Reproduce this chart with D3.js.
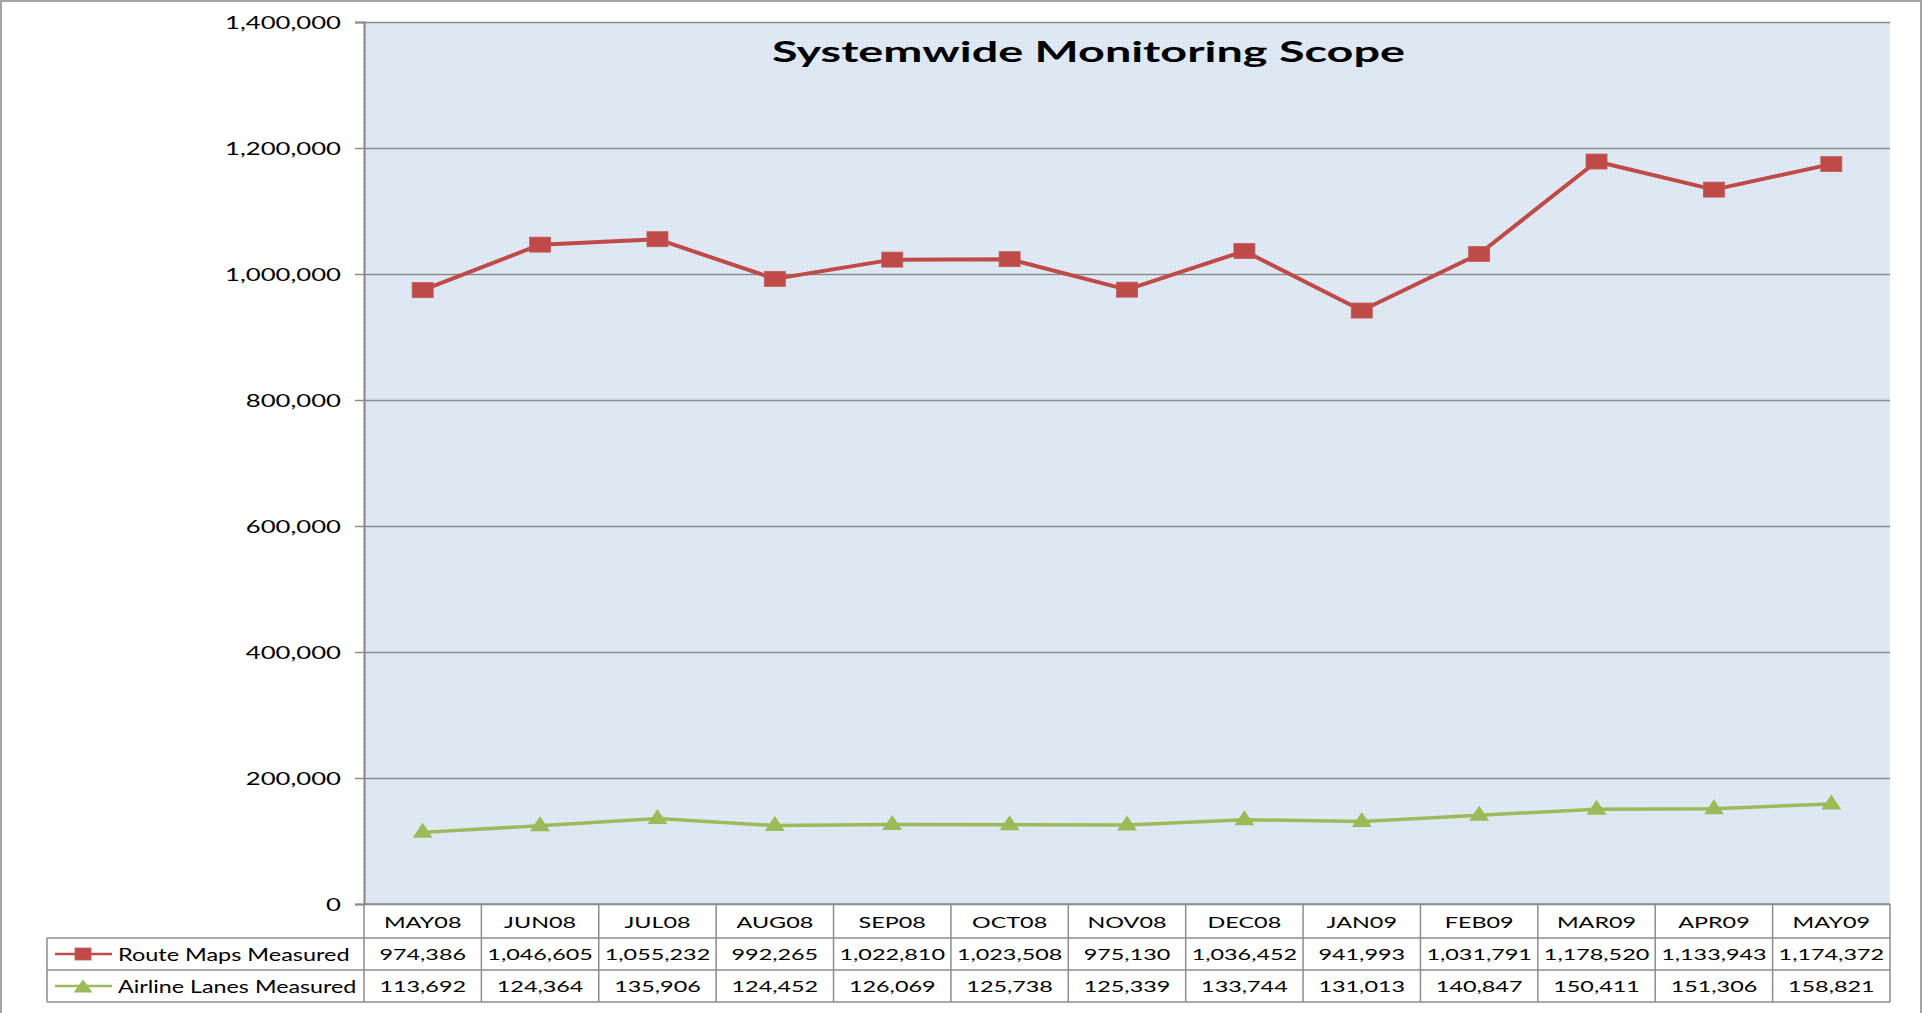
<!DOCTYPE html>
<html>
<head>
<meta charset="utf-8">
<script src="https://d3js.org/d3.v7.min.js"></script>
<style>
  body { margin:0; background:#fff; }
  text { font-family: Lato, "Open Sans", sans-serif; fill:#000; }
</style>
</head>
<body>
<svg width="1923" height="1013"></svg>
<script>
// data (its own data table)
var months = ["MAY08","JUN08","JUL08","AUG08","SEP08","OCT08","NOV08","DEC08","JAN09","FEB09","MAR09","APR09","MAY09"];
var routeMaps = [974386,1046605,1055232,992265,1022810,1023508,975130,1036452,941993,1031791,1178520,1133943,1174372];
var airlineLanes = [113692,124364,135906,124452,126069,125738,125339,133744,131013,140847,150411,151306,158821];
var yTicks = [0,200000,400000,600000,800000,1000000,1200000,1400000];
var seriesNames = ["Route Maps Measured","Airline Lanes Measured"];

var svg = d3.select("svg");
var SX = 1.46; // the original is drawn horizontally stretched
var plotL = 364, plotR = 1890, plotT = 22, plotB = 904;
var tableLeft = 47, rowH = [34, 32, 32];
var red = "#BE4B48", green = "#9BBB59", gridCol = "#8C8C8C";

// outer frame
svg.append("rect").attr("x",1).attr("y",1).attr("width",1920).attr("height",1030)
    .attr("fill","#fff").attr("stroke","#A6A6A6").attr("stroke-width",2);

var x = d3.scaleBand().domain(months).range([plotL,plotR]).padding(0);
var y = d3.scaleLinear().domain([0,1400000]).range([plotB,plotT]);
var cx = function(m) { return x(m) + x.bandwidth()/2; };

// plot background with fine texture
var defs = svg.append("defs");
var pat = defs.append("pattern").attr("id","tex").attr("width",4).attr("height",4)
    .attr("patternUnits","userSpaceOnUse");
pat.append("rect").attr("width",4).attr("height",4).attr("fill","#DAE5F2");
pat.append("rect").attr("width",1).attr("height",4).attr("fill","#E3EBF6");
pat.append("rect").attr("width",4).attr("height",1).attr("fill","#E3EBF6");
svg.append("rect").attr("x",plotL).attr("y",plotT).attr("width",plotR-plotL).attr("height",plotB-plotT)
    .attr("fill","url(#tex)");

// gridlines
var grid = svg.append("g").attr("transform","translate("+plotL+",0)")
    .call(d3.axisLeft(y).tickValues(yTicks).tickSize(-(plotR-plotL)).tickFormat(""));
grid.select(".domain").remove();
grid.selectAll("line").attr("stroke",gridCol).attr("stroke-width",1.5);

// y axis with labels
var yAxis = svg.append("g").attr("transform","translate("+plotL+",0)")
    .call(d3.axisLeft(y).tickValues(yTicks).tickSize(9).tickPadding(14).tickFormat(d3.format(",")));
yAxis.select(".domain").attr("stroke","#868686").attr("stroke-width",2);
yAxis.selectAll("line").attr("stroke",gridCol).attr("stroke-width",1.5);
yAxis.selectAll("text").attr("x",null).attr("dy","0.36em")
    .attr("transform","translate(-23,0) scale("+SX+",1)")
    .style("font-size","17.6px").style("font-family","Lato, sans-serif").attr("fill","#000");

// title
svg.append("text").text("Systemwide Monitoring Scope")
    .attr("x",772).attr("y",62)
    .attr("textLength",633).attr("lengthAdjust","spacingAndGlyphs")
    .style("font-size","29px").style("font-weight","bold");

// lines and markers
var line = d3.line().x(function(d,i){ return cx(months[i]); }).y(function(d){ return y(d); });
svg.append("path").datum(routeMaps).attr("d",line).attr("fill","none")
    .attr("stroke",red).attr("stroke-width",4).attr("stroke-linejoin","round");
svg.append("path").datum(airlineLanes).attr("d",line).attr("fill","none")
    .attr("stroke",green).attr("stroke-width",3.5).attr("stroke-linejoin","round");

function square(g, px, py, w, h) {
    g.append("rect").attr("x",px-w/2).attr("y",py-h/2).attr("width",w).attr("height",h)
        .attr("fill",red).attr("stroke","#C45A57").attr("stroke-width",0.8);
}
function triangle(g, px, py, w, h) {
    g.append("path").attr("d","M"+(px-w/2)+","+(py+h/2)+"L"+px+","+(py-h/2)+"L"+(px+w/2)+","+(py+h/2)+"Z")
        .attr("fill",green);
}
var marks = svg.append("g");
routeMaps.forEach(function(v,i){ square(marks, cx(months[i]), y(v), 21, 15); });
airlineLanes.forEach(function(v,i){ triangle(marks, cx(months[i]), y(v)-2, 20, 15); });

// data table
var t = svg.append("g");
var r1 = plotB, r2 = r1+rowH[0], r3 = r2+rowH[1], r4 = r3+rowH[2];
function hline(x1,x2,yy){ t.append("line").attr("x1",x1).attr("x2",x2).attr("y1",yy).attr("y2",yy)
    .attr("stroke",gridCol).attr("stroke-width",1.5); }
function vline(xx,y1,y2){ t.append("line").attr("x1",xx).attr("x2",xx).attr("y1",y1).attr("y2",y2)
    .attr("stroke",gridCol).attr("stroke-width",1.5); }
hline(plotL,plotR,r1); hline(tableLeft,plotR,r2); hline(tableLeft,plotR,r3); hline(tableLeft,plotR,r4);
vline(tableLeft,r2,r4);
months.forEach(function(m){ vline(x(m),r1,r4); });
vline(plotR,r1,r4);

function label(g, px, py, str, size, anchor, sx) {
    g.append("g").attr("transform","translate("+px+","+py+") scale("+(sx||SX)+",1)")
        .append("text").attr("text-anchor",anchor||"middle").style("font-size",size+"px").text(str);
}
var fmt = d3.format(",");
months.forEach(function(m,i){
    label(t, cx(m), r1+23.5, m, 16);
    label(t, cx(m), r2+22, fmt(routeMaps[i]), 16);
    label(t, cx(m), r3+22, fmt(airlineLanes[i]), 16);
});

// legend keys in the table
var k1 = (r2+r3)/2, k2 = (r3+r4)/2;
t.append("line").attr("x1",55).attr("x2",112).attr("y1",k1).attr("y2",k1).attr("stroke",red).attr("stroke-width",2.5);
square(t, 83, k1, 16, 12);
t.append("line").attr("x1",55).attr("x2",112).attr("y1",k2).attr("y2",k2).attr("stroke",green).attr("stroke-width",2.5);
triangle(t, 83, k2, 19, 13);
label(t, 118, r2+22.5, seriesNames[0], 17, "start", 1.38);
label(t, 118, r3+22.5, seriesNames[1], 17, "start", 1.37);
</script>
</body>
</html>
